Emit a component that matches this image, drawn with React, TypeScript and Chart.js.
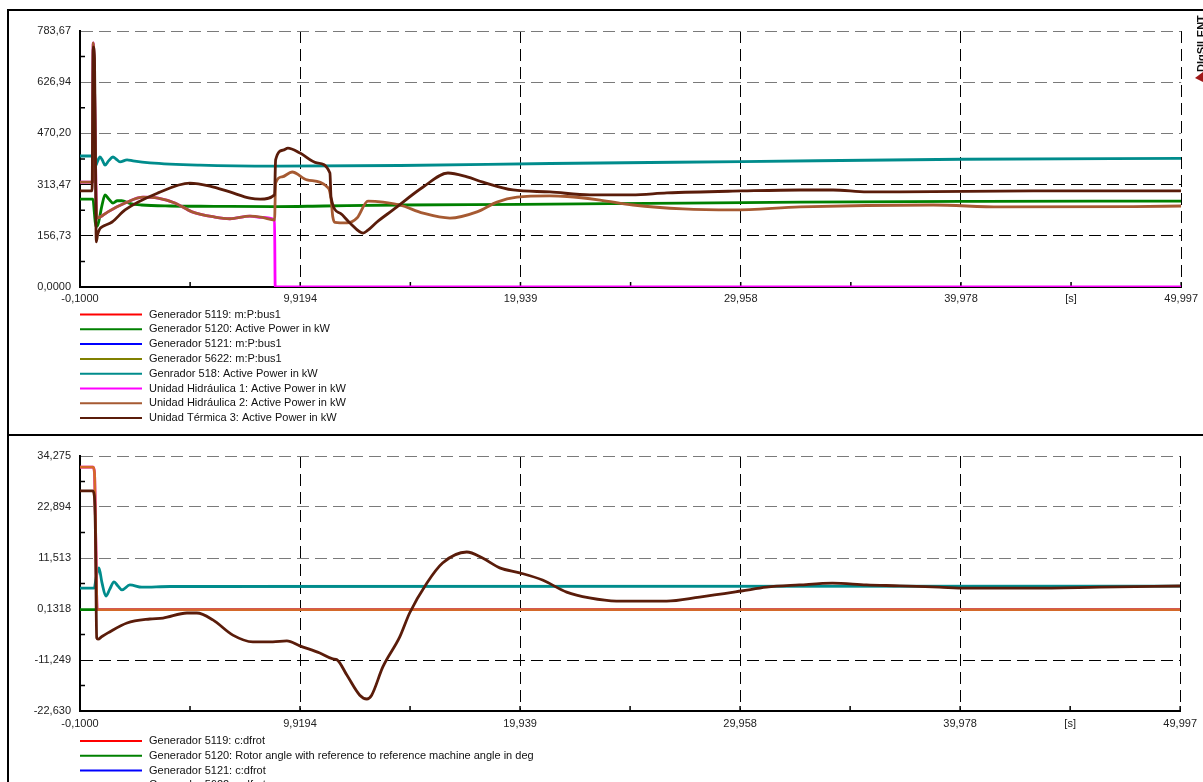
import React, { useEffect, useRef } from "react";
import { Chart, registerables } from "chart.js";

Chart.register(...registerables);

const FONT = "'Liberation Sans', Arial, Helvetica, sans-serif";

// ---------- axes ----------
const xTickValues = [-0.1, 9.9194, 19.939, 29.958, 39.978, 49.997];
const xTickLabels = ["-0,1000", "9,9194", "19,939", "29,958", "39,978", "49,997"];
const xUnitLabel = "[s]";
const xUnitValue = 44.9875;

const topYTickValues = [0, 156.734, 313.468, 470.202, 626.936, 783.67];
const topYTickLabels = ["0,0000", "156,73", "313,47", "470,20", "626,94", "783,67"];
const botYTickValues = [-22.63, -11.249, 0.1318, 11.513, 22.894, 34.275];
const botYTickLabels = ["-22,630", "-11,249", "0,1318", "11,513", "22,894", "34,275"];

// ---------- legends ----------
const topLabels = [
  "Generador 5119: m:P:bus1",
  "Generador 5120: Active Power in kW",
  "Generador 5121: m:P:bus1",
  "Generador 5622: m:P:bus1",
  "Genrador 518: Active Power in kW",
  "Unidad Hidráulica 1: Active Power in kW",
  "Unidad Hidráulica 2: Active Power in kW",
  "Unidad Térmica 3: Active Power in kW",
];
const bottomLabels = [
  "Generador 5119: c:dfrot",
  "Generador 5120: Rotor angle with reference to reference machine angle in deg",
  "Generador 5121: c:dfrot",
  "Generador 5622: c:dfrot",
  "Genrador 518: c:dfrot",
  "Unidad Hidráulica 1: c:dfrot",
  "Unidad Hidráulica 2: c:dfrot",
  "Unidad Térmica 3: c:dfrot",
];
const topColors = ["#ff0000", "#008000", "#0000ff", "#808000", "#008c8c", "#ff00ff", "#a65a32", "#5a1c0a"];
const bottomColors = ["#ff0000", "#008000", "#0000ff", "#808000", "#008c8c", "#ff00ff", "#d4692a", "#5a1c0a"];

// ---------- top panel series: [time s, kW] ----------
const topGen5119: number[][] = [];
const topGen5120: number[][] = [
  [-0.1, 269], [0.49, 269], [0.55, 230], [0.62, 185], [0.72, 192], [0.9, 250], [1.04, 282], [1.2, 270],
  [1.4, 257], [1.6, 264], [1.8, 264], [2.2, 255], [2.7, 251], [4, 248], [6, 247], [8.8, 246], [11, 248],
  [14.5, 251], [20, 253], [24, 255], [32.7, 260], [41, 262], [49.997, 263],
];
const topGen5121: number[][] = [];
const topGen5622: number[][] = [];
const topGen518: number[][] = [
  [-0.1, 401], [0.5, 401], [0.56, 395], [0.62, 372], [0.67, 380], [0.81, 398], [0.92, 388], [1.04, 373],
  [1.2, 386], [1.4, 398], [1.55, 391], [1.72, 383], [2.04, 389], [2.31, 386], [3.08, 380], [5.36, 373],
  [8.77, 370], [14.46, 372], [21.3, 378], [30, 384], [40, 391], [49.997, 394],
];
const topHidro1: number[][] = [
  [-0.1, 321], [0.47, 321], [0.5, 747], [0.56, 620], [0.62, 320], [0.67, 211], [0.81, 214], [1.17, 230],
  [1.95, 257], [2.77, 275], [3.45, 272], [4.22, 257], [5.0, 230], [6.04, 214], [6.72, 209], [7.63, 217],
  [8.2, 213], [8.75, 205], [8.78, 0], [49.997, 0],
];
const topHidro2: number[][] = [
  [-0.1, 321], [0.47, 321], [0.5, 747], [0.56, 620], [0.62, 320], [0.67, 211], [0.81, 214], [1.17, 230],
  [1.95, 257], [2.77, 275], [3.45, 272], [4.22, 257], [5.0, 230], [6.04, 214], [6.72, 209], [7.63, 217],
  [8.2, 213], [8.75, 205], [8.8, 318], [9.09, 337], [9.55, 352], [10.23, 328], [11.2, 303], [11.32, 270],
  [11.4, 215], [11.5, 198], [12.05, 196], [12.5, 211], [13.0, 263], [13.69, 260], [14.46, 251],
  [15.51, 226], [16.73, 211], [17.96, 230], [18.87, 260], [19.78, 275], [21.28, 279], [22.06, 277],
  [23.56, 266], [25.06, 251], [27.33, 239], [29.61, 236], [32.66, 245], [38.71, 251], [41.76, 245],
  [47.81, 246], [49.997, 248],
];
const topTermica3: number[][] = [
  [-0.1, 294], [0.45, 294], [0.5, 735], [0.56, 700], [0.6, 420], [0.64, 138], [0.7, 160], [0.8, 178],
  [0.9, 184], [1.36, 199], [1.95, 236], [3.45, 288], [4.9, 318], [5.81, 309], [6.72, 291], [7.63, 272],
  [8.1, 269], [8.75, 282], [8.8, 389], [9.14, 419], [9.36, 425], [9.91, 410], [10.68, 380], [11.27, 349],
  [11.32, 275], [11.73, 226], [12.18, 196], [12.78, 165], [13.0, 174], [13.41, 199], [14.14, 236],
  [15.51, 306], [16.64, 349], [17.51, 337], [18.23, 321], [19.6, 297], [21.28, 291], [23.1, 282],
  [25.0, 282], [26.6, 288], [30.02, 294], [32.66, 297], [34.16, 297], [35.71, 291], [37.2, 291],
  [43.26, 294], [49.997, 294],
];

// ---------- bottom panel series: [time s, deg] ----------
const botGen5119: number[][] = [];
const botGen5120: number[][] = [[-0.1, 0], [49.997, 0]];
const botGen5121: number[][] = [];
const botGen5622: number[][] = [];
const botGen518: number[][] = [
  [-0.1, 4.8], [0.55, 4.8], [0.63, 7], [0.76, 9.3], [0.9, 6], [1.08, 3.0], [1.25, 4.5], [1.45, 6.2],
  [1.62, 5.3], [1.81, 4.4], [2.17, 5.5], [2.72, 5.0], [4, 5.15], [49.997, 5.25],
];
const botHidro1: number[][] = [[-0.1, 31.8], [0.5, 31.8], [0.56, 30.5], [0.62, 15], [0.68, 0], [49.997, 0]];
const botHidro2: number[][] = [[-0.1, 31.8], [0.5, 31.8], [0.56, 30.5], [0.62, 15], [0.68, 0], [49.997, 0]];
const botTermica3: number[][] = [
  [-0.1, 26.5], [0.47, 26.5], [0.55, 25.5], [0.6, 18], [0.66, -6.3], [0.72, -6.6], [0.9, -6.0],
  [1.17, -5.2], [2.04, -2.99], [3.08, -2.1], [3.68, -1.9], [4.77, -0.76], [5.22, -0.76], [5.95, -2.3],
  [6.86, -5.7], [7.77, -7.2], [8.68, -7.2], [9.32, -7.0], [9.91, -8.1], [10.82, -9.7], [11.41, -11.0],
  [11.6, -11.2], [12.05, -14.6], [12.64, -19.1], [12.96, -19.95], [13.18, -19.1], [13.69, -12.8],
  [14.46, -6.1], [14.91, -0.76], [15.69, 5.9], [16.41, 10.4], [17.51, 12.85], [18.23, 11.5],
  [19.01, 9.3], [19.92, 8.2], [20.96, 6.6], [22.06, 3.9], [23.1, 2.6], [24.33, 1.9], [26.61, 1.9],
  [28.11, 2.8], [30.02, 4.15], [31.16, 5.0], [32.66, 5.5], [34.16, 5.9], [35.71, 5.5], [37.21, 5.3],
  [39.03, 5.0], [40.25, 4.8], [43.26, 4.8], [46.31, 5.0], [49.997, 5.27],
];

const topSeries = [topGen5119, topGen5120, topGen5121, topGen5622, topGen518, topHidro1, topHidro2, topTermica3];
const botSeries = [botGen5119, botGen5120, botGen5121, botGen5622, botGen518, botHidro1, botHidro2, botTermica3];

const toXY = (pairs: number[][]) => pairs.map(([x, y]) => ({ x, y }));

const legendPlugin = {
  id: "dslLegend",
  afterDraw(chart: any) {
    const o = chart.options.plugins.dslLegend;
    if (!o) return;
    const ctx = chart.ctx;
    ctx.save();
    chart.data.datasets.forEach((ds: any, i: number) => {
      const y = o.y0 + i * o.dy;
      ctx.strokeStyle = ds.borderColor;
      ctx.lineWidth = 2;
      ctx.beginPath();
      ctx.moveTo(o.x0, y);
      ctx.lineTo(o.x1, y);
      ctx.stroke();
      ctx.fillStyle = "#111";
      ctx.font = `11px ${FONT}`;
      ctx.textBaseline = "middle";
      ctx.textAlign = "left";
      ctx.fillText(ds.label, o.tx, y);
    });
    ctx.restore();
  },
};

const minorTickPlugin = {
  id: "dslMinor",
  beforeDatasetsDraw(chart: any) {
    const o = chart.options.plugins.dslMinor;
    if (!o) return;
    const { ctx, chartArea, scales } = chart;
    const xs = scales.x;
    const ys = scales.y;
    ctx.save();
    ctx.strokeStyle = "#000";
    ctx.lineWidth = 1.5;
    ctx.beginPath();
    xTickValues.forEach((v, i) => {
      const px = xs.getPixelForValue(v);
      ctx.moveTo(px, chartArea.bottom);
      ctx.lineTo(px, chartArea.bottom - 5);
      if (i < xTickValues.length - 1) {
        const m = xs.getPixelForValue((v + xTickValues[i + 1]) / 2);
        ctx.moveTo(m, chartArea.bottom);
        ctx.lineTo(m, chartArea.bottom - 5);
      }
    });
    const yv: number[] = o.yValues;
    yv.forEach((v, i) => {
      if (i < yv.length - 1) {
        const m = ys.getPixelForValue((v + yv[i + 1]) / 2);
        ctx.moveTo(chartArea.left, m);
        ctx.lineTo(chartArea.left + 5, m);
      }
    });
    ctx.stroke();
    ctx.restore();
  },
};

function makeConfig(
  series: number[][][],
  labels: string[],
  colors: string[],
  yValues: number[],
  yLabels: string[],
  grayFrom: number,
  padTop: number,
  xHeight: number,
  xPad: number,
  legendY0: number
): any {
  return {
    type: "line",
    data: {
      datasets: series.map((s, i) => ({
        label: labels[i],
        data: toXY(s),
        borderColor: colors[i],
        backgroundColor: colors[i],
        borderWidth: 2.8,
        pointRadius: 0,
        fill: false,
        cubicInterpolationMode: "monotone",
        borderJoinStyle: "round",
        order: 20 - i,
      })),
    },
    options: {
      responsive: false,
      animation: false,
      events: [],
      layout: { padding: { left: 8, right: 21, top: padTop, bottom: 0 } },
      plugins: {
        legend: { display: false },
        tooltip: { enabled: false },
        title: { display: false },
        dslLegend: { x0: 80, x1: 142, tx: 149, y0: legendY0, dy: 14.8 },
        dslMinor: { yValues },
      },
      scales: {
        x: {
          type: "linear",
          min: xTickValues[0],
          max: xTickValues[xTickValues.length - 1],
          afterBuildTicks: (s: any) => {
            const t = xTickValues.map((v) => ({ value: v }));
            t.splice(5, 0, { value: xUnitValue });
            s.ticks = t;
          },
          afterFit: (s: any) => {
            s.height = xHeight;
          },
          ticks: {
            autoSkip: false,
            maxRotation: 0,
            minRotation: 0,
            padding: xPad,
            color: "#222",
            font: { family: FONT, size: 11 },
            callback: (v: number) => {
              if (Math.abs(v - xUnitValue) < 1e-6) return xUnitLabel;
              const idx = xTickValues.findIndex((t) => Math.abs(t - v) < 1e-6);
              return idx >= 0 ? xTickLabels[idx] : "";
            },
          },
          grid: {
            drawTicks: false,
            lineWidth: 1,
            color: (c: any) =>
              c.tick && Math.abs(c.tick.value - xUnitValue) < 1e-6 ? "rgba(0,0,0,0)" : "#000",
          },
          border: { display: true, color: "#000", width: 2, dash: [12, 6] },
        },
        y: {
          type: "linear",
          min: yValues[0],
          max: yValues[yValues.length - 1],
          afterBuildTicks: (s: any) => {
            s.ticks = yValues.map((v) => ({ value: v }));
          },
          afterFit: (s: any) => {
            s.width = 72;
          },
          ticks: {
            autoSkip: false,
            padding: 9,
            color: "#222",
            font: { family: FONT, size: 11 },
            callback: (v: number) => {
              const idx = yValues.findIndex((t) => Math.abs(t - v) < 1e-6);
              return idx >= 0 ? yLabels[idx] : "";
            },
          },
          grid: {
            drawTicks: false,
            lineWidth: 1,
            color: (c: any) => (c.tick && c.tick.value >= grayFrom ? "#7a7a7a" : "#000"),
          },
          border: { display: true, color: "#000", width: 2, dash: [12, 6] },
        },
      },
    },
    plugins: [legendPlugin, minorTickPlugin],
  };
}

export default function App() {
  const topRef = useRef<HTMLCanvasElement | null>(null);
  const botRef = useRef<HTMLCanvasElement | null>(null);

  useEffect(() => {
    Chart.defaults.font.family = FONT;
    const c1 = new Chart(
      topRef.current as HTMLCanvasElement,
      makeConfig(topSeries, topLabels, topColors, topYTickValues, topYTickLabels, 470, 31, 149, 5, 314.5)
    );
    const c2 = new Chart(
      botRef.current as HTMLCanvasElement,
      makeConfig(botSeries, bottomLabels, bottomColors, botYTickValues, botYTickLabels, 11, 20, 115, 6, 305)
    );
    return () => {
      c1.destroy();
      c2.destroy();
    };
  }, []);

  return (
    <div
      style={{
        position: "fixed",
        left: 0,
        top: 0,
        width: 1203,
        height: 782,
        overflow: "hidden",
        background: "#fff",
      }}
    >
      <div
        style={{
          position: "absolute",
          left: 7,
          top: 9,
          width: 1400,
          height: 1000,
          border: "2px solid #000",
        }}
      />
      <div style={{ position: "absolute", left: 7, top: 434, width: 1400, height: 2, background: "#000" }} />
      <canvas
        ref={topRef}
        width={1203}
        height={436}
        style={{ position: "absolute", left: 0, top: 0, width: 1203, height: 436 }}
      />
      <canvas
        ref={botRef}
        width={1203}
        height={390}
        style={{ position: "absolute", left: 0, top: 436, width: 1203, height: 390 }}
      />
      <div
        style={{
          position: "absolute",
          left: 1195,
          top: 72,
          transformOrigin: "left top",
          transform: "rotate(-90deg)",
          fontFamily: FONT,
          fontWeight: "bold",
          fontSize: 11,
          lineHeight: "13px",
          color: "#111",
          whiteSpace: "nowrap",
        }}
      >
        DIgSILENT
      </div>
      <div
        style={{
          position: "absolute",
          left: 1195,
          top: 72,
          width: 8,
          height: 10,
          background: "#a01818",
          clipPath: "polygon(0 60%, 100% 0, 100% 100%)",
        }}
      />
    </div>
  );
}
